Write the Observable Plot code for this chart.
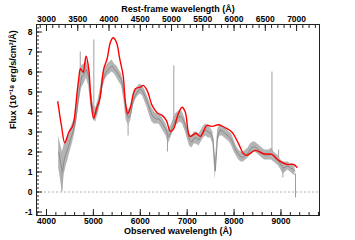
<!DOCTYPE html>
<html><head><meta charset="utf-8">
<script src="https://cdn.jsdelivr.net/npm/d3@7"></script>
<script src="https://cdn.jsdelivr.net/npm/@observablehq/plot@0.6"></script>
<style>body{margin:0;background:#fff} svg{display:block}</style>
</head><body><div id="chart"></div>
<script>
// Model (red) spectrum
const redLam  = [4241,4320,4390,4476,4547,4583,4620,4654,4690,4724,4782,4815,4845,4901,4952,5008,5065,5136,5221,5293,5363,5420,5491,5562,5634,5683,5732,5790,5896,6003,6060,6145,6252,6358,6465,6556,6642,6712,6797,6891,6961,7060,7189,7281,7423,7530,7671,7813,7956,8097,8203,8276,8452,8629,8808,8949,9128,9269,9341];
const redFlux = [4.52,3.30,2.46,2.99,3.24,3.49,4.20,4.99,5.70,6.16,5.99,6.40,6.79,6.16,4.49,3.69,4.16,4.66,6.16,6.66,7.49,7.71,7.49,6.66,5.83,4.49,3.91,4.24,5.16,5.24,5.33,5.08,4.33,3.96,3.83,3.58,3.03,3.16,3.83,4.24,3.99,2.78,2.94,2.78,3.33,3.28,3.36,3.21,2.99,2.41,1.91,1.83,2.08,1.91,1.88,1.58,1.38,1.38,1.24];

// Observed (grey) spectrum band
const grayLam = [4260,4300,4340,4380,4420,4460,4500,4550,4600,4650,4700,4750,4800,4850,4900,4950,5000,5050,5100,5150,5200,5250,5300,5350,5400,5450,5500,5550,5600,5650,5700,5750,5800,5850,5900,5950,6000,6050,6100,6150,6200,6250,6300,6350,6400,6450,6500,6550,6600,6650,6700,6750,6800,6850,6900,6950,7000,7050,7100,7150,7200,7250,7300,7350,7400,7450,7500,7550,7600,7650,7700,7750,7800,7850,7900,7950,8000,8050,8100,8150,8200,8250,8300,8350,8400,8450,8500,8550,8600,8650,8700,8750,8800,8850,8900,8950,9000,9050,9100,9150,9200,9250,9300];
const grayLo  = [1.2,0.6,0.0,0.9,1.3,1.6,2.0,2.4,2.9,3.6,4.5,5.2,5.4,5.7,5.3,4.2,3.6,3.5,3.9,4.4,5.2,5.6,5.8,5.9,6.0,5.9,5.7,5.5,5.3,4.6,3.6,3.3,3.6,4.3,4.6,4.8,4.9,4.8,4.5,4.2,3.8,3.5,3.4,3.4,3.4,3.2,3.0,2.8,2.4,2.7,3.0,3.3,3.4,3.5,3.4,3.1,2.7,2.3,2.2,2.4,2.4,2.3,2.5,2.7,2.8,2.7,2.7,2.4,0.6,2.5,2.8,2.8,2.7,2.6,2.5,2.3,2.0,1.8,1.6,1.5,1.5,1.6,1.7,1.9,2.0,2.0,1.9,1.8,1.7,1.6,1.6,1.6,1.6,1.5,1.4,1.3,1.1,0.9,1.0,1.1,1.0,0.9,0.8];
const grayHi  = [2.8,2.4,2.0,2.4,2.6,2.8,3.1,3.4,3.7,4.6,5.6,6.3,6.4,6.6,6.2,5.2,4.3,4.2,4.6,5.2,5.9,6.2,6.4,6.5,6.6,6.4,6.3,6.1,5.9,5.4,4.4,4.1,4.3,4.9,5.1,5.3,5.4,5.3,5.1,4.8,4.5,4.2,4.0,3.9,3.9,3.8,3.6,3.4,3.1,3.3,3.6,3.9,4.0,4.1,4.0,3.7,3.3,2.9,2.8,3.0,3.0,2.9,3.1,3.3,3.4,3.3,3.2,3.0,1.5,3.1,3.4,3.3,3.2,3.1,3.0,2.9,2.6,2.3,2.1,2.0,2.0,2.1,2.2,2.4,2.5,2.5,2.4,2.3,2.2,2.1,2.1,2.1,2.2,2.0,1.9,1.8,1.6,1.5,1.5,1.5,1.4,1.4,1.3];

// Narrow spikes (sky lines / residuals)
const spikeLam  = [4330,4720,5010,5740,6580,6715,8808,8950,9040,9310];
const spikeFrom = [1.0,6.0,4.2,3.4,2.8,3.5,2.0,1.7,1.2,0.9];
const spikeTo   = [0.0,7.0,7.6,2.8,2.0,6.3,6.0,2.1,0.7,-0.3];

// Axes
const onePlusZ = 4/3;
const obsMajor = [4000,5000,6000,7000,8000,9000];
const obsMinor = d3.range(3800, 9801, 200);
const restMajor = [3000,3500,4000,4500,5000,5500,6000,6500,7000];
const restMinor = d3.range(2900, 7301, 100);
const fluxMajor = [-1,0,1,2,3,4,5,6,7,8];
const fluxMinor = d3.range(-1.0, 8.3, 0.2);

const gray = grayLam.map((l,i)=>({lam:l, lo:grayLo[i], hi:grayHi[i], mid:(grayLo[i]+grayHi[i])/2}));
const spikes = spikeLam.map((l,i)=>({lam:l, y1:spikeFrom[i], y2:spikeTo[i]}));
const red = redLam.map((l,i)=>({lam:l, f:redFlux[i]}));

const font = "Liberation Sans, Arial, Helvetica, sans-serif";
const chart = Plot.plot({
  width: 355, height: 240,
  marginLeft: 36, marginRight: 36, marginTop: 24, marginBottom: 25,
  style: {fontFamily: font, fontSize: "8.5px", fontWeight: "bold", color: "#000", background: "#fff"},
  x: {domain: [3787, 9822], axis: null},
  y: {domain: [-1.175, 8.375], axis: null},
  marks: [
    Plot.ruleY([0], {stroke: "#999", strokeDasharray: "2,2", strokeWidth: 0.8}),
    Plot.areaY(gray, {x: "lam", y1: "lo", y2: "hi", fill: "#b4b4b4"}),
    Plot.line(gray, {x: "lam", y: "mid", stroke: "#8c8c8c", strokeWidth: 1}),
    Plot.ruleX(spikes, {x: "lam", y1: "y1", y2: "y2", stroke: "#a0a0a0", strokeWidth: 1}),
    Plot.line(red, {x: "lam", y: "f", stroke: "#ff0000", strokeWidth: 1.4, curve: "catmull-rom"}),
    Plot.frame({stroke: "#222", strokeWidth: 1}),
    // bottom axis (observed)
    Plot.axisX({anchor: "bottom", ticks: obsMinor, tickSize: -3, tickFormat: () => "", label: null, stroke: "#222"}),
    Plot.axisX({anchor: "bottom", ticks: obsMajor, tickSize: -6, tickFormat: () => "", label: null, stroke: "#222"}),
    Plot.axisX({anchor: "bottom", ticks: obsMajor, tickSize: 0, tickPadding: 2, tickFormat: d => String(d), label: null}),
    // top axis (rest frame)
    Plot.axisX({anchor: "top", ticks: restMinor.map(r => r*onePlusZ), tickSize: -3, tickFormat: () => "", label: null, stroke: "#222"}),
    Plot.axisX({anchor: "top", ticks: restMajor.map(r => r*onePlusZ), tickSize: -6, tickFormat: () => "", label: null, stroke: "#222"}),
    Plot.axisX({anchor: "top", ticks: restMajor.map(r => r*onePlusZ), tickSize: 0, tickPadding: 3, tickFormat: d => String(Math.round(d/onePlusZ)), label: null}),
    // left axis (flux)
    Plot.axisY({anchor: "left", ticks: fluxMinor, tickSize: -3, tickFormat: () => "", label: null, stroke: "#222"}),
    Plot.axisY({anchor: "left", ticks: fluxMajor, tickSize: -6, tickFormat: () => "", label: null, stroke: "#222"}),
    Plot.axisY({anchor: "left", ticks: fluxMajor, tickSize: 0, tickPadding: 4, tickFormat: d => String(d), label: null}),
    // titles
    Plot.text(["Rest-frame wavelength (Å)"], {frameAnchor: "top", dy: -19, fontSize: 9, fontWeight: "bold"}),
    Plot.text(["Observed wavelength (Å)"], {frameAnchor: "bottom", dy: 18.5, fontSize: 9, fontWeight: "bold"}),
    Plot.text(["Flux (10⁻¹⁸ erg/s/cm²/Å)"], {frameAnchor: "left", dx: -23, dy: 9, rotate: -90, fontSize: 9, fontWeight: "bold"})
  ]
});
document.getElementById("chart").appendChild(chart);
</script>
</body></html>
